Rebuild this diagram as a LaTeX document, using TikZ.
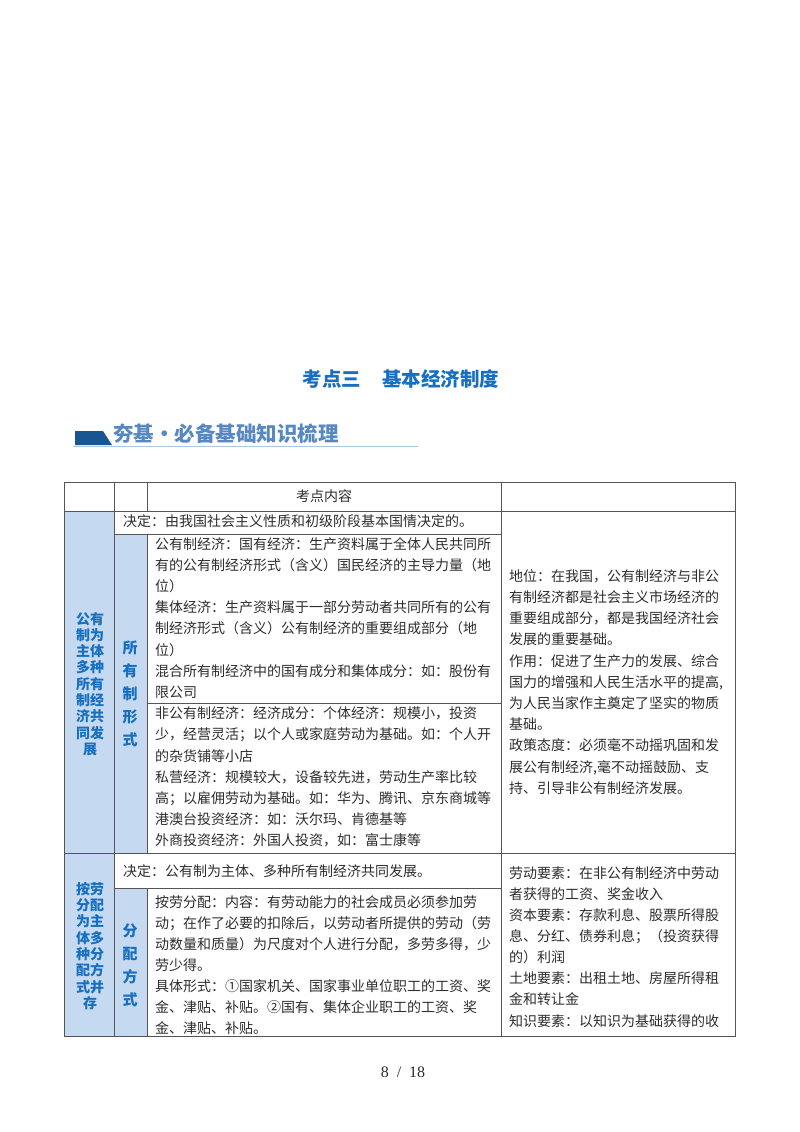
\documentclass[tikz,border=0pt]{standalone}
\usepackage{fontspec}
\setmainfont{Liberation Serif}
\newfontfamily\cjk{Noto Sans CJK SC}
\usepackage{tikz}
\usetikzlibrary{positioning}
\definecolor{lanse}{RGB}{22,111,192}
\definecolor{qianlan}{RGB}{197,217,240}
\definecolor{shenlan}{RGB}{24,86,146}
\definecolor{zhonglan}{RGB}{86,136,196}
\definecolor{xianlan}{RGB}{170,198,226}
\definecolor{huixian}{RGB}{85,85,85}
\definecolor{heizi}{RGB}{45,45,45}
\tikzset{
    gline/.style={draw=huixian, line width=0.9pt},
    side/.style={text=lanse, font=\cjk\bfseries\fontsize{14}{16.3}\selectfont, align=center, inner sep=0pt},
    sideb/.style={text=lanse, font=\cjk\bfseries\fontsize{15}{23}\selectfont, align=center, inner sep=0pt},
    txt/.style={anchor=base west, inner sep=0pt, text=heizi, align=left, font=\cjk\fontsize{14}{21.2}\selectfont},
}

\begin{document}
\begin{tikzpicture}[x=1pt, y=-1pt]
    \useasboundingbox (0,0) rectangle (800,1132);

    \node[text=lanse, font=\cjk\bfseries\fontsize{19.5}{22}\selectfont] (title) at (401,379) {考点三\hspace{1.1em}基本经济制度};

    \fill[shenlan] (75,431) -- (103,431) -- (112,445) -- (75,445) -- cycle;
    \draw[xianlan, line width=1.5pt] (73,446.5) -- (418,446.5);
    \node[anchor=west, inner sep=0pt, text=zhonglan, font=\cjk\bfseries\fontsize{20.5}{22}\selectfont] (jichu) at (113,434) {夯基・必备基础知识梳理};

    \fill[qianlan] (64,511) rectangle (114,1036);
    \fill[qianlan] (114,534) rectangle (147,853);
    \fill[qianlan] (114,888) rectangle (147,1036);

    \draw[gline] (64,482) rectangle (735,1036);
    \draw[gline] (114,482) -- (114,1036);
    \draw[gline] (501,482) -- (501,1036);
    \draw[gline] (147,482) -- (147,511);
    \draw[gline] (147,534) -- (147,853);
    \draw[gline] (147,888) -- (147,1036);
    \draw[gline] (64,511) -- (735,511);
    \draw[gline] (114,534) -- (501,534);
    \draw[gline] (147,703) -- (501,703);
    \draw[gline] (64,853) -- (735,853);
    \draw[gline] (114,888) -- (501,888);

    \node[text=heizi, font=\cjk\fontsize{14}{16}\selectfont] (neirong) at (324,496) {考点内容};

    \node[side] (gongyou) at (90,684) {公有\\制为\\主体\\多种\\所有\\制经\\济共\\同发\\展};
    \node[sideb] (xingshi) at (130,694) {所\\有\\制\\形\\式};
    \node[side] (anlao) at (90,946) {按劳\\分配\\为主\\体多\\种分\\配方\\式并\\存};
    \node[sideb] (fangshi) at (130,965) {分\\配\\方\\式};

    \node[txt, text width=370pt] (jueding1) at (123,526.5) {决定：由我国社会主义性质和初级阶段基本国情决定的。};
    \node[txt, text width=350pt] (gongyouzhi) at (155,549) {公有制经济：国有经济：生产资料属于全体人民共同所\\
        有的公有制经济形式（含义）国民经济的主导力量（地\\
        位）\\
        集体经济：生产资料属于一部分劳动者共同所有的公有\\
        制经济形式（含义）公有制经济的重要组成部分（地\\
        位）\\
        混合所有制经济中的国有成分和集体成分：如：股份有\\
        限公司};
    \node[txt, text width=350pt] (feigongyou) at (155,718.6) {非公有制经济：经济成分：个体经济：规模小，投资\\
        少，经营灵活；以个人或家庭劳动为基础。如：个人开\\
        的杂货铺等小店\\
        私营经济：规模较大，设备较先进，劳动生产率比较\\
        高；以雇佣劳动为基础。如：华为、腾讯、京东商城等\\
        港澳台投资经济：如：沃尔玛、肯德基等\\
        外商投资经济：外国人投资，如：富士康等};
    \node[txt, text width=225pt] (diwei) at (509,581.3) {地位：在我国，公有制经济与非公\\
        有制经济都是社会主义市场经济的\\
        重要组成部分，都是我国经济社会\\
        发展的重要基础。\\
        作用：促进了生产力的发展、综合\\
        国力的增强和人民生活水平的提高,\\
        为人民当家作主奠定了坚实的物质\\
        基础。\\
        政策态度：必须毫不动摇巩固和发\\
        展公有制经济,毫不动摇鼓励、支\\
        持、引导非公有制经济发展。};

    \node[txt, text width=370pt] (jueding2) at (123,876.3) {决定：公有制为主体、多种所有制经济共同发展。};
    \node[txt, text width=350pt, font=\cjk\fontsize{14}{21.05}\selectfont] (anlaofenpei) at (155,907) {按劳分配：内容：有劳动能力的社会成员必须参加劳\\
        动；在作了必要的扣除后，以劳动者所提供的劳动（劳\\
        动数量和质量）为尺度对个人进行分配，多劳多得，少\\
        劳少得。\\
        具体形式：①国家机关、国家事业单位职工的工资、奖\\
        金、津贴、补贴。②国有、集体企业职工的工资、奖\\
        金、津贴、补贴。};
    \node[txt, text width=225pt, font=\cjk\fontsize{14}{21.1}\selectfont] (yaosu) at (509,878.3) {劳动要素：在非公有制经济中劳动\\
        者获得的工资、奖金收入\\
        资本要素：存款利息、股票所得股\\
        息、分红、债券利息；（投资获得\\
        的）利润\\
        土地要素：出租土地、房屋所得租\\
        金和转让金\\
        知识要素：以知识为基础获得的收};

    \node[text=heizi, font=\fontsize{16}{18}\selectfont] (yema) at (403,1072) {8\enspace/\enspace18};
\end{tikzpicture}
\end{document}
